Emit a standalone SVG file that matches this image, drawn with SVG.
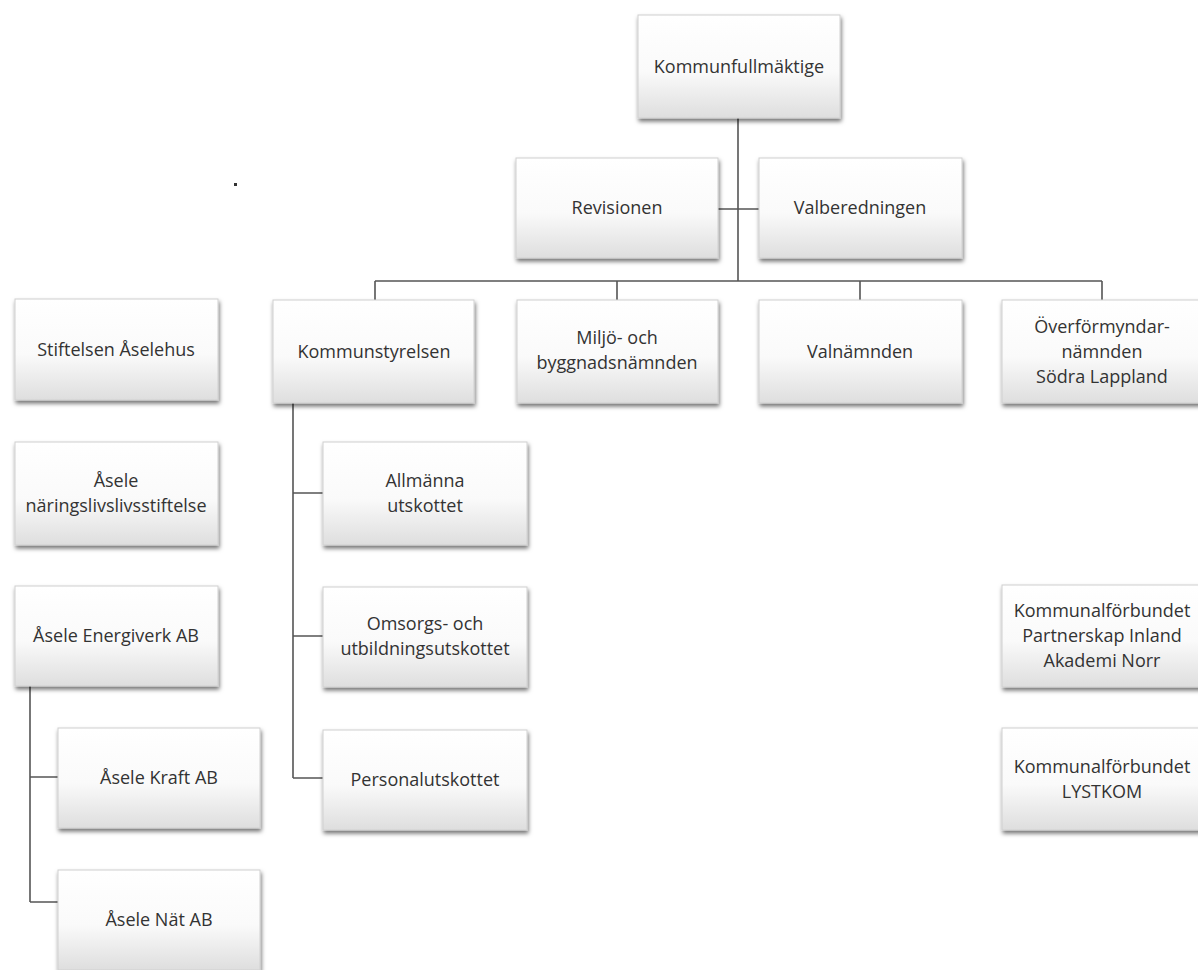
<svg xmlns="http://www.w3.org/2000/svg" width="1198" height="970" viewBox="0 0 1198 970">
<defs>
<linearGradient id="g" x1="0" y1="0" x2="0" y2="1">
<stop offset="0" stop-color="#ffffff"/>
<stop offset="0.55" stop-color="#fafafa"/>
<stop offset="1" stop-color="#dedede"/>
</linearGradient>
<filter id="sh" x="-10%" y="-10%" width="125%" height="130%">
<feDropShadow dx="1" dy="3" stdDeviation="2" flood-color="#000" flood-opacity="0.55"/>
</filter>
</defs>
<style>
.b{fill:url(#g);stroke:#d0d0d0;stroke-width:1;filter:url(#sh)}
.t{font-family:"Open Sans","Liberation Sans",sans-serif;font-size:18px;fill:#333333;text-anchor:middle}
.c{stroke:#555555;stroke-width:1.6;fill:none}
</style>
<rect width="1198" height="970" fill="#ffffff"/>
<g id="connectors">
<path class="c" d="M738 118V281M718 209H759M375 281H1102M375 281V300M617 281V300M860 281V300M1102 281V300"/>
<path class="c" d="M293 403V778M293 493H323M293 636H323M293 778H323"/>
<path class="c" d="M30 686V902M30 777H58M30 902H58"/>
</g>
<g id="kommunfullmaktige"><rect class="b" x="638" y="15" width="202" height="103"/><text class="t" x="739" y="73">Kommunfullmäktige</text></g>
<g id="revisionen"><rect class="b" x="516" y="158" width="202" height="100"/><text class="t" x="617" y="214">Revisionen</text></g>
<g id="valberedningen"><rect class="b" x="759" y="158" width="203" height="100"/><text class="t" x="860" y="214">Valberedningen</text></g>
<g id="stiftelsen"><rect class="b" x="15" y="299" width="203" height="101"/><text class="t" x="116" y="356">Stiftelsen Åselehus</text></g>
<g id="kommunstyrelsen"><rect class="b" x="273" y="300" width="201" height="103"/><text class="t" x="374" y="358">Kommunstyrelsen</text></g>
<g id="miljo"><rect class="b" x="517" y="300" width="201" height="103"/><text class="t" x="617" y="344">Miljö- och</text><text class="t" x="617" y="369">byggnadsnämnden</text></g>
<g id="valnamnden"><rect class="b" x="759" y="300" width="203" height="103"/><text class="t" x="860" y="358">Valnämnden</text></g>
<g id="overformyndar"><rect class="b" x="1002" y="300" width="202" height="103"/><text class="t" x="1102" y="333">Överförmyndar-</text><text class="t" x="1102" y="358">nämnden</text><text class="t" x="1102" y="383">Södra Lappland</text></g>
<g id="naringsliv"><rect class="b" x="15" y="442" width="203" height="103"/><text class="t" x="116" y="487">Åsele</text><text class="t" x="116" y="512">näringslivslivsstiftelse</text></g>
<g id="energiverk"><rect class="b" x="15" y="586" width="203" height="100"/><text class="t" x="116" y="642">Åsele Energiverk AB</text></g>
<g id="kraft"><rect class="b" x="58" y="728" width="202" height="100"/><text class="t" x="159" y="784">Åsele Kraft AB</text></g>
<g id="nat"><rect class="b" x="58" y="870" width="202" height="100"/><text class="t" x="159" y="926">Åsele Nät AB</text></g>
<g id="allmanna"><rect class="b" x="323" y="442" width="204" height="103"/><text class="t" x="425" y="487">Allmänna</text><text class="t" x="425" y="512">utskottet</text></g>
<g id="omsorgs"><rect class="b" x="323" y="587" width="204" height="100"/><text class="t" x="425" y="630">Omsorgs- och</text><text class="t" x="425" y="655">utbildningsutskottet</text></g>
<g id="personal"><rect class="b" x="323" y="730" width="204" height="100"/><text class="t" x="425" y="786">Personalutskottet</text></g>
<g id="partnerskap"><rect class="b" x="1002" y="585" width="202" height="102"/><text class="t" x="1102" y="617">Kommunalförbundet</text><text class="t" x="1102" y="642">Partnerskap Inland</text><text class="t" x="1102" y="667">Akademi Norr</text></g>
<g id="lystkom"><rect class="b" x="1002" y="728" width="202" height="102"/><text class="t" x="1102" y="773">Kommunalförbundet</text><text class="t" x="1102" y="798">LYSTKOM</text></g>
<rect x="234" y="183" width="3" height="3" fill="#333"/>
</svg>
